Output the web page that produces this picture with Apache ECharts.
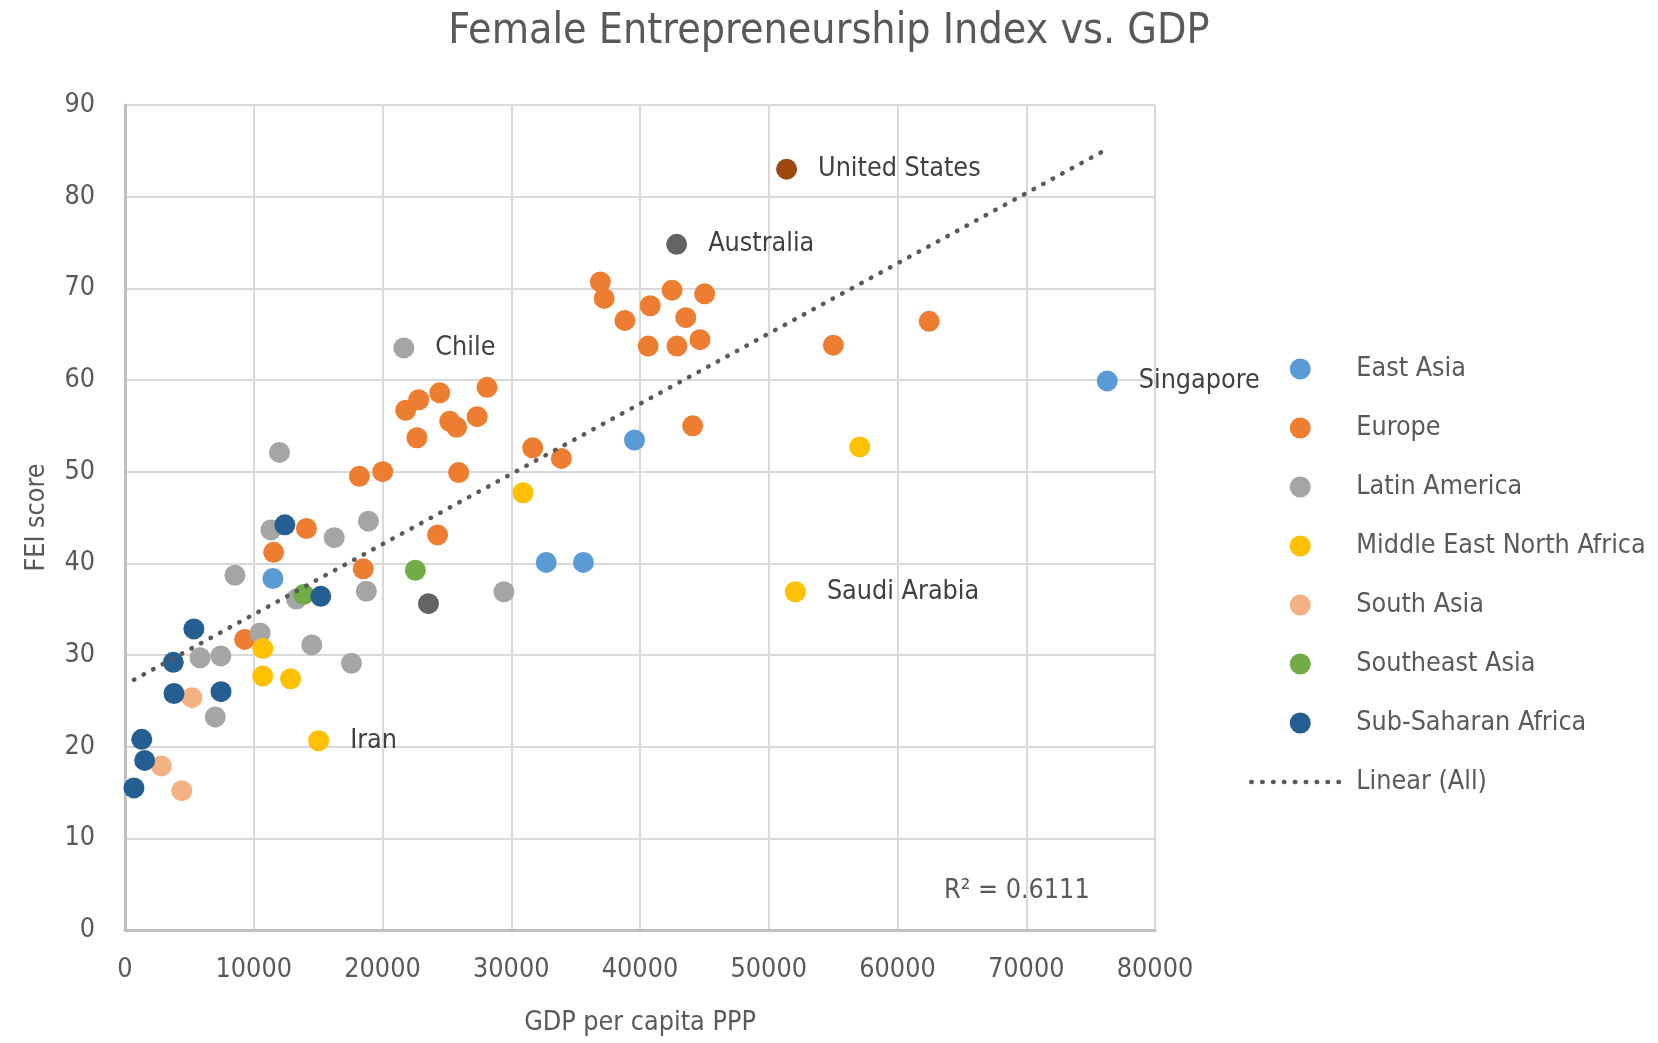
<!DOCTYPE html>
<html>
<head>
<meta charset="utf-8">
<script src="https://cdn.jsdelivr.net/npm/echarts@6/dist/echarts.min.js"></script>
<style>
  html, body { margin: 0; padding: 0; background: #ffffff; }
  #chart { width: 1658px; height: 1043px; }
</style>
</head>
<body>
<div id="chart"></div>
<script>
// ---------- DATA (GDP per capita PPP, FEI score) ----------
const xTicks = [0, 10000, 20000, 30000, 40000, 50000, 60000, 70000, 80000];
const yTicks = [0, 10, 20, 30, 40, 50, 60, 70, 80, 90];

const eastAsia = [[39572, 53.45], [32715, 40.1], [35607, 40.1], [11490, 38.35], [76290, 59.9]];
const eastAsiaNames = ['', '', '', '', 'Singapore'];

const europe = [
  [36921, 70.7], [37216, 68.9], [38826, 66.5], [40793, 68.1], [42488, 69.8],
  [45020, 69.4], [43555, 66.8], [40638, 63.7], [42870, 63.7], [44658, 64.4],
  [55015, 63.8], [62457, 66.4], [44090, 55.0], [28115, 59.2], [24442, 58.6],
  [22810, 57.85], [21800, 56.7], [25218, 55.5], [25755, 54.85], [27352, 56.0],
  [22672, 53.7], [31665, 52.6], [33892, 51.45], [18200, 49.5], [20015, 50.0],
  [25915, 49.9], [14090, 43.8], [24280, 43.1], [11545, 41.2], [18503, 39.4],
  [9290, 31.7]
];

const latinAmerica = [
  [21655, 63.5], [11998, 52.1], [11330, 43.65], [16248, 42.8], [18905, 44.6],
  [8540, 38.7], [13310, 36.1], [18745, 36.95], [29430, 36.9], [10498, 32.4],
  [14505, 31.1], [5832, 29.7], [7442, 29.9], [17590, 29.1], [7010, 23.25]
];
const latinAmericaNames = ['Chile'];

const mena = [[30910, 47.7], [57067, 52.7], [52068, 36.9], [10700, 30.7], [10692, 27.7], [12858, 27.4], [15040, 20.65]];
const menaNames = ['', '', 'Saudi Arabia', '', '', '', 'Iran'];

const southAsia = [[5200, 25.35], [2815, 17.9], [4410, 15.2]];
const southeastAsia = [[22551, 39.25], [13875, 36.6]];
const subSaharanAfrica = [
  [12415, 44.2], [15205, 36.4], [5350, 32.85], [3752, 29.2], [3806, 25.8],
  [7457, 26.0], [1302, 20.8], [1528, 18.5], [696, 15.5]
];

const unitedStates = [[51384, 83.0]];
const australia = [[42846, 74.8]];
const otherDarkGray = [[23570, 35.6]];

// Excel linear trendline (All): endpoints
const trendAll = [[696, 27.3], [76290, 85.2]];
const rSquared = 'R² = 0.6111';

// ---------- FONT ----------
function hasFont(name) {
  const c = document.createElement('canvas').getContext('2d');
  const t = 'Middle East North Africa 0123456789';
  let diff = false;
  ['monospace', 'serif'].forEach(function (fb) {
    c.font = '40px ' + fb; const a = c.measureText(t).width;
    c.font = '40px "' + name + '", ' + fb; const b = c.measureText(t).width;
    if (Math.abs(a - b) > 0.5) diff = true;
  });
  return diff;
}
let family = 'Liberation Sans';
['Liberation Sans Narrow', 'Arial Narrow', 'DejaVu Sans Condensed'].some(function (f) {
  if (hasFont(f)) { family = f; return true; } return false;
});
const fontFamily = '"' + family + '", "Liberation Sans", Arial, sans-serif';
const mctx = document.createElement('canvas').getContext('2d');
mctx.font = '32px ' + fontFamily;
const k = 290 / mctx.measureText('Middle East North Africa').width;
const fs = Math.round(32 * k * 10) / 10;
const fsTitle = Math.round(51 * k * 10) / 10;

// ---------- CHART ----------
const textColor = '#595959';
function pts(arr, names) {
  return arr.map(function (p, i) {
    const n = names && names[i] ? names[i] : '';
    return { value: p, name: n, label: { show: !!n } };
  });
}
function scatter(name, arr, color, names) {
  return {
    name: name, type: 'scatter', data: pts(arr, names), symbolSize: 21,
    itemStyle: { color: color, opacity: 1 },
    label: {
      position: 'right', distance: 21, formatter: '{b}',
      color: '#404040', fontSize: fs, fontFamily: fontFamily
    },
    emphasis: { disabled: true }
  };
}

const chart = echarts.init(document.getElementById('chart'), null, { renderer: 'canvas' });
chart.setOption({
  animation: false,
  backgroundColor: '#ffffff',
  textStyle: { fontFamily: fontFamily },
  title: {
    text: 'Female Entrepreneurship Index vs. GDP',
    left: 'center', top: 10, padding: 0,
    textStyle: { fontSize: fsTitle, fontWeight: 'normal', color: textColor, fontFamily: fontFamily }
  },
  grid: { left: 125, top: 105, width: 1030, height: 825, containLabel: false },
  xAxis: {
    type: 'value', min: xTicks[0], max: xTicks[xTicks.length - 1], interval: xTicks[1] - xTicks[0],
    name: 'GDP per capita PPP', nameLocation: 'middle', nameGap: 80,
    nameTextStyle: { fontSize: fs, color: textColor, fontFamily: fontFamily },
    axisLine: { show: true, lineStyle: { color: '#bfbfbf', width: 3 } },
    axisTick: { show: false },
    axisLabel: { fontSize: fs, color: textColor, margin: 27, fontFamily: fontFamily,
      formatter: function (v) { return String(v); } },
    splitLine: { show: true, lineStyle: { color: '#d9d9d9', width: 2 } }
  },
  yAxis: {
    type: 'value', min: yTicks[0], max: yTicks[yTicks.length - 1], interval: yTicks[1] - yTicks[0],
    name: 'FEI score', nameLocation: 'middle', nameGap: 74, nameRotate: 90,
    nameTextStyle: { fontSize: fs, color: textColor, fontFamily: fontFamily },
    axisLine: { show: true, lineStyle: { color: '#bfbfbf', width: 3 } },
    axisTick: { show: false },
    axisLabel: { fontSize: fs, color: textColor, margin: 30, fontFamily: fontFamily,
      formatter: function (v) { return String(v); } },
    splitLine: { show: true, lineStyle: { color: '#d9d9d9', width: 2 } }
  },
  legend: {
    orient: 'vertical', left: 1244, top: 348, padding: 5,
    itemWidth: 98, itemHeight: 21, itemGap: 27,
    textStyle: { fontSize: fs, color: textColor, lineHeight: 32, padding: [0, 0, 0, 2], fontFamily: fontFamily },
    lineStyle: { width: 4.5, cap: 'round' },
    data: [
      { name: 'East Asia', icon: 'circle' },
      { name: 'Europe', icon: 'circle' },
      { name: 'Latin America', icon: 'circle' },
      { name: 'Middle East North Africa', icon: 'circle' },
      { name: 'South Asia', icon: 'circle' },
      { name: 'Southeast Asia', icon: 'circle' },
      { name: 'Sub-Saharan Africa', icon: 'circle' },
      { name: 'Linear (All)', itemStyle: { opacity: 0 } }
    ],
    selectedMode: false
  },
  graphic: [{
    type: 'text', x: 944, y: 891, silent: true,
    style: { text: rSquared, fill: textColor, font: fs + 'px ' + fontFamily, verticalAlign: 'middle', align: 'left' }
  }],
  series: [
    scatter('East Asia', eastAsia, '#5B9BD5', eastAsiaNames),
    scatter('Europe', europe, '#ED7D31'),
    scatter('Latin America', latinAmerica, '#A5A5A5', latinAmericaNames),
    scatter('Middle East North Africa', mena, '#FFC000', menaNames),
    scatter('South Asia', southAsia, '#F4B183'),
    scatter('Southeast Asia', southeastAsia, '#70AD47'),
    scatter('Sub-Saharan Africa', subSaharanAfrica, '#255E91'),
    scatter('United States', unitedStates, '#9E480E', ['United States']),
    scatter('Australia', australia, '#636363', ['Australia']),
    scatter('Other', otherDarkGray, '#636363'),
    {
      name: 'Linear (All)', type: 'line', data: trendAll, symbol: 'none', z: 10, silent: true,
      lineStyle: { color: '#595959', width: 4.5, type: [0.5, 10.4], cap: 'round' },
      emphasis: { disabled: true }
    }
  ]
});
</script>
</body>
</html>
